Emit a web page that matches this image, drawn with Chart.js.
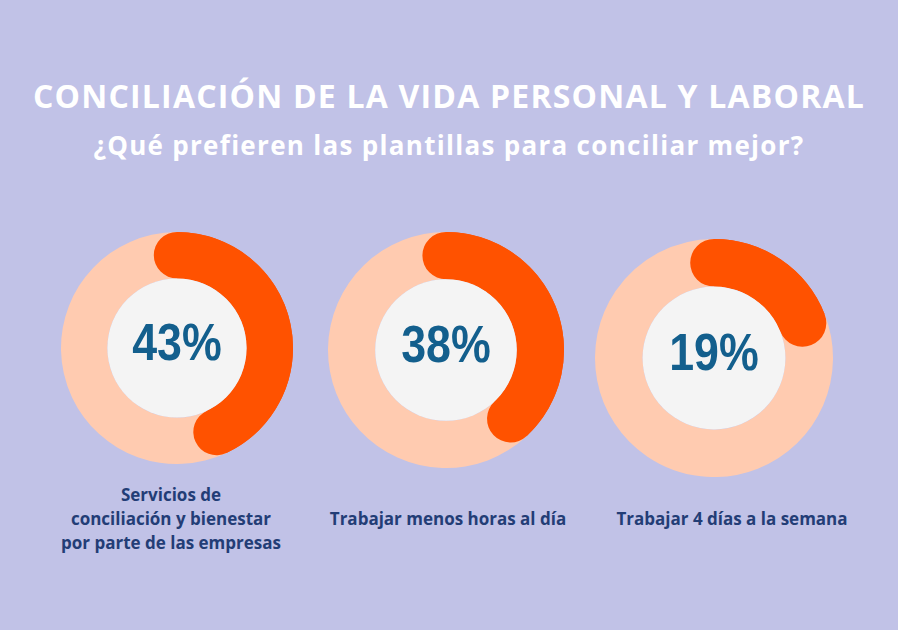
<!DOCTYPE html>
<html lang="es">
<head>
<meta charset="utf-8">
<title>Conciliación de la vida personal y laboral</title>
<script src="https://cdn.jsdelivr.net/npm/chart.js@4.4.0/dist/chart.umd.min.js"></script>
<style>
  html, body { margin: 0; padding: 0; }
  body {
    width: 898px; height: 630px; overflow: hidden; position: relative;
    background: #c1c2e7;
    font-family: "Open Sans", "Noto Sans", sans-serif;
  }
  .title {
    position: absolute; left: 0; width: 898px; text-align: center;
    color: #ffffff; font-weight: 700; white-space: nowrap;
  }
  #mainTitle { top: 74px; font-size: 32px; line-height: 44px; letter-spacing: 1.2px; }
  #subTitle { top: 127px; font-size: 26px; line-height: 36px; letter-spacing: 1.3px; }
  .donut { position: absolute; }
  .label {
    position: absolute; width: 300px; text-align: center;
    color: #233d76; font-weight: 700; font-size: 17px; line-height: 24px;
    white-space: nowrap;
  }
</style>
</head>
<body>
<div class="title" id="mainTitle">CONCILIACIÓN DE LA VIDA PERSONAL Y LABORAL</div>
<div class="title" id="subTitle">¿Qué prefieren las plantillas para conciliar mejor?</div>

<script>
// chart data
const categories = [
    ['Servicios de', 'conciliación y bienestar', 'por parte de las empresas'],
    ['Trabajar menos horas al día'],
    ['Trabajar 4 días a la semana']
];
const percentages = [43, 38, 19];

// layout of each ring on the page
const centers = [[177, 348], [446, 350], [714, 358]];
const radii = [116, 118, 119];
const labelCenters = [[171, 519], [448, 519], [732, 519]];

const ORANGE = '#ff5200';
const PEACH = '#ffcbb0';
const GREY = '#f4f4f4';
const NUMBER_BLUE = '#135f8d';

const ringPlugin = {
    id: 'ring',
    afterDatasetsDraw(chart) {
        const ctx = chart.ctx;
        const arc = chart.getDatasetMeta(0).data[0];
        const p = arc.getProps(['x', 'y', 'startAngle', 'endAngle', 'innerRadius', 'outerRadius'], true);
        const width = p.outerRadius - p.innerRadius;
        const mid = (p.outerRadius + p.innerRadius) / 2;

        ctx.save();
        // value arc with rounded ends
        ctx.beginPath();
        ctx.arc(p.x, p.y, mid, p.startAngle, p.endAngle);
        ctx.lineWidth = width;
        ctx.lineCap = 'round';
        ctx.strokeStyle = ORANGE;
        ctx.stroke();

        // centre disc
        ctx.beginPath();
        ctx.arc(p.x, p.y, p.innerRadius, 0, Math.PI * 2);
        ctx.fillStyle = GREY;
        ctx.fill();

        // percentage, narrow bold face
        const value = chart.data.datasets[0].data[0];
        ctx.translate(p.x, p.y + 12);
        ctx.scale(0.86, 1);
        ctx.font = 'bold 52px "Liberation Sans", Arial, sans-serif';
        ctx.fillStyle = NUMBER_BLUE;
        ctx.textAlign = 'center';
        ctx.textBaseline = 'alphabetic';
        ctx.fillText(value + '%', 0, 0);
        ctx.restore();
    }
};

percentages.forEach((pct, i) => {
    const r = radii[i];
    const [cx, cy] = centers[i];

    const box = document.createElement('div');
    box.className = 'donut';
    box.style.left = (cx - r) + 'px';
    box.style.top = (cy - r) + 'px';
    box.style.width = (r * 2) + 'px';
    box.style.height = (r * 2) + 'px';
    const canvas = document.createElement('canvas');
    box.appendChild(canvas);
    document.body.appendChild(box);

    new Chart(canvas.getContext('2d'), {
        type: 'doughnut',
        data: {
            labels: [categories[i].join(' '), 'Resto'],
            datasets: [{
                data: [pct, 100 - pct],
                backgroundColor: [ORANGE, PEACH],
                borderWidth: 0
            }]
        },
        options: {
            responsive: true,
            maintainAspectRatio: false,
            animation: false,
            cutout: '60%',
            layout: { padding: 0 },
            plugins: {
                legend: { display: false },
                tooltip: { enabled: false }
            }
        },
        plugins: [ringPlugin]
    });

    const lines = categories[i];
    const label = document.createElement('div');
    label.className = 'label';
    label.innerHTML = lines.join('<br>');
    label.style.left = (labelCenters[i][0] - 150) + 'px';
    label.style.top = (labelCenters[i][1] - lines.length * 12) + 'px';
    document.body.appendChild(label);
});
</script>
</body>
</html>
